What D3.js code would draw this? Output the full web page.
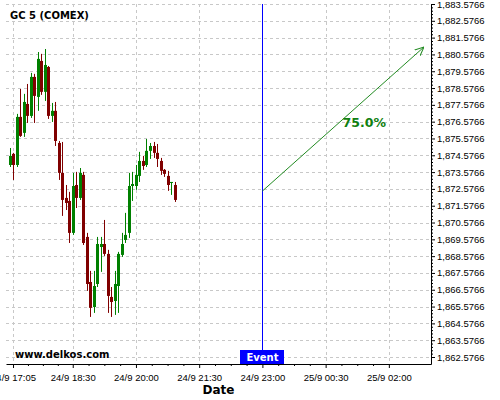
<!DOCTYPE html>
<html>
<head>
<meta charset="utf-8">
<script src="https://cdn.jsdelivr.net/npm/d3@7"></script>
<style>
  body { margin: 0; background: #fff; }
  svg { display: block; font-family: "DejaVu Sans", sans-serif; }
</style>
</head>
<body>
<div id="chart"></div>
<script>
/** chart data: 5 minute candles of GC 5 starting 24/9 17:00 */
const startTime = "2024-09-24 17:00";
const opens  = [1874.00,1874.66,1874.00,1876.86,1875.91,1877.63,1876.92,1879.24,1878.05,1880.19,
                1878.35,1879.83,1876.92,1877.22,1875.31,1873.53,1872.04,1871.86,1869.96,1872.81,
                1872.04,1873.41,1869.72,1867.04,1865.55,1866.92,1869.12,1869.30,1868.71,1866.15,
                1865.91,1866.80,1868.65,1869.54,1869.96,1872.75,1872.75,1873.35,1874.24,1874.00,
                1874.84,1875.13,1874.72,1874.24,1873.71,1873.35,1872.93,1872.81];
const highs  = [1875.01,1874.72,1877.04,1878.52,1878.23,1878.82,1879.48,1879.42,1880.72,1880.61,
                1880.90,1879.89,1877.69,1877.75,1875.43,1875.37,1872.81,1872.40,1873.53,1873.59,
                1873.82,1873.59,1869.96,1867.70,1867.70,1869.72,1869.72,1870.73,1868.95,1866.74,
                1867.70,1868.83,1869.96,1871.15,1873.53,1873.59,1874.00,1874.78,1874.54,1875.55,
                1875.31,1875.37,1875.25,1874.42,1873.76,1873.65,1872.99,1872.99];
const lows   = [1873.88,1873.11,1873.88,1875.67,1875.67,1876.50,1876.80,1876.50,1877.22,1878.17,
                1877.81,1876.74,1876.56,1875.13,1873.11,1870.97,1871.32,1869.36,1869.84,1871.44,
                1871.92,1869.24,1866.51,1864.96,1865.20,1866.74,1867.64,1868.59,1865.20,1864.96,
                1865.08,1865.20,1868.53,1869.36,1869.66,1871.86,1872.52,1872.99,1873.71,1873.88,
                1874.36,1874.42,1873.88,1873.41,1873.29,1872.46,1872.22,1871.80];
const closes = [1874.54,1874.00,1876.86,1875.73,1877.75,1876.92,1879.24,1878.11,1880.31,1878.35,
                1879.95,1876.92,1877.22,1875.43,1873.53,1871.92,1871.74,1869.96,1872.75,1872.04,
                1873.53,1869.36,1866.92,1865.50,1866.80,1869.30,1869.30,1868.71,1866.21,1865.85,
                1866.92,1868.71,1869.30,1869.84,1872.75,1872.87,1873.41,1874.24,1873.94,1874.84,
                1875.13,1874.72,1874.36,1873.65,1873.47,1872.81,1872.99,1871.92];

/** axis ticks */
const yTicks = d3.range(1862.5766, 1883.6, 1);
const xTickLabels = ["2024-09-24 17:05", "2024-09-24 18:30", "2024-09-24 20:00", "2024-09-24 21:30",
                     "2024-09-24 23:00", "2024-09-25 00:30", "2024-09-25 02:00"];

/** event and forecast arrow */
const eventTime = "2024-09-24 23:00";
const arrowStart = { time: "2024-09-24 23:00", value: 1872.45 };
const arrowEnd   = { time: "2024-09-25 02:50", value: 1881.02 };
const arrowLabel = "75.0%";
const labelPos   = { time: "2024-09-25 01:25", value: 1876.25 };

let parseTime = d3.timeParse("%Y-%m-%d %H:%M");

let width = 500, height = 400;
let plot = { left: 6, right: 431, top: 4, bottom: 364 };

let svg = d3.select('#chart').append('svg')
    .attr('width', width)
    .attr('height', height);

let t0 = parseTime(startTime);
let candles = opens.map(function (o, i) {
    return { time: d3.timeMinute.offset(t0, 5 * i), open: o, high: highs[i], low: lows[i], close: closes[i] };
});

let xScale = d3.scaleTime()
    .domain([parseTime("2024-09-24 16:55"), parseTime("2024-09-25 03:00")])
    .range([plot.left, plot.right]);

let yScale = d3.scaleLinear()
    .domain([1862.5766 - 7 / 16.81, 1883.5766])
    .range([plot.bottom, plot.top]);

let xTicks = xTickLabels.map(parseTime);

/** grid */
let grid = svg.append('g').attr('class', 'grid')
    .attr('stroke', '#c8c8c8')
    .attr('stroke-dasharray', '3,3')
    .attr('stroke-width', 1);

grid.selectAll('.hgrid')
    .data(yTicks)
    .enter()
    .append('line')
    .attr('x1', plot.left)
    .attr('x2', plot.right)
    .attr('y1', d => Math.round(yScale(d)) + 0.5)
    .attr('y2', d => Math.round(yScale(d)) + 0.5);

grid.selectAll('.vgrid')
    .data(xTicks)
    .enter()
    .append('line')
    .attr('y1', plot.top)
    .attr('y2', plot.bottom)
    .attr('x1', d => Math.round(xScale(d)) + 0.5)
    .attr('x2', d => Math.round(xScale(d)) + 0.5);

/** candles */
let bodyW = 3;
let candleG = svg.selectAll('.candle')
    .data(candles)
    .enter()
    .append('g')
    .attr('class', 'candle')
    .attr('fill', d => d.close >= d.open ? '#008000' : '#800000')
    .attr('stroke', d => d.close >= d.open ? '#008000' : '#800000');

candleG.append('line')
    .attr('x1', d => Math.round(xScale(d.time)) + 0.5)
    .attr('x2', d => Math.round(xScale(d.time)) + 0.5)
    .attr('y1', d => yScale(d.high))
    .attr('y2', d => yScale(d.low))
    .attr('stroke-width', 1);

candleG.append('rect')
    .attr('stroke', 'none')
    .attr('x', d => Math.round(xScale(d.time)) - 1)
    .attr('width', bodyW)
    .attr('y', d => yScale(Math.max(d.open, d.close)))
    .attr('height', d => Math.max(1, Math.abs(yScale(d.open) - yScale(d.close))));

/** event line */
let ex = Math.round(xScale(parseTime(eventTime))) + 0.5;
svg.append('line')
    .attr('x1', ex).attr('x2', ex)
    .attr('y1', plot.top).attr('y2', plot.bottom)
    .attr('stroke', '#0000ff')
    .attr('stroke-width', 1);

/** forecast arrow */
svg.append('defs').append('marker')
    .attr('id', 'head')
    .attr('viewBox', '0 0 10 10')
    .attr('refX', 10).attr('refY', 5)
    .attr('markerWidth', 9).attr('markerHeight', 9)
    .attr('markerUnits', 'userSpaceOnUse')
    .attr('orient', 'auto')
    .append('path')
    .attr('d', 'M0,0.5 L10,5 L0,9.5')
    .attr('fill', 'none')
    .attr('stroke', '#228b22')
    .attr('stroke-width', 1.1);

let ax1 = xScale(parseTime(arrowStart.time)), ay1 = yScale(arrowStart.value);
let ax2 = xScale(parseTime(arrowEnd.time)), ay2 = yScale(arrowEnd.value);
svg.append('line')
    .attr('x1', ax1).attr('y1', ay1)
    .attr('x2', ax2).attr('y2', ay2)
    .attr('stroke', '#228b22')
    .attr('stroke-width', 1)
    .attr('marker-end', 'url(#head)');

svg.append('text')
    .attr('x', xScale(parseTime(labelPos.time)))
    .attr('y', yScale(labelPos.value))
    .attr('text-anchor', 'middle')
    .style('font-size', '12.5px')
    .style('font-weight', 'bold')
    .attr('fill', '#108010')
    .text(arrowLabel);

/** axes */
let xAxis = d3.axisBottom(xScale)
    .tickValues(xTicks)
    .tickFormat(d3.timeFormat("%-d/%-m %H:%M"))
    .tickSize(4)
    .tickSizeOuter(0);

let xMinor = [];
for (let i = 0; i < xTicks.length - 1; i++) {
    let a = +xTicks[i], b = +xTicks[i + 1];
    for (let k = 1; k < 4; k++) xMinor.push(new Date(a + (b - a) * k / 4));
}

svg.append('g')
    .attr('transform', `translate(0, ${plot.bottom})`)
    .call(d3.axisBottom(xScale).tickValues(xMinor).tickFormat('').tickSize(2).tickSizeOuter(0))
    .call(g => g.select('.domain').remove());

let gx = svg.append('g')
    .attr('transform', `translate(0, ${plot.bottom})`)
    .call(xAxis);
gx.selectAll('text').style('font-size', '9.5px').attr('dy', '1.05em');

let yMinor = d3.range(1862.5766, 1883.6, 0.2).filter((d, i) => i % 5 !== 0);
svg.append('g')
    .attr('transform', `translate(${plot.right}, 0)`)
    .call(d3.axisRight(yScale).tickValues(yMinor).tickFormat('').tickSize(2).tickSizeOuter(0))
    .call(g => g.select('.domain').remove());

let gy = svg.append('g')
    .attr('transform', `translate(${plot.right}, 0)`)
    .call(d3.axisRight(yScale)
        .tickValues(yTicks)
        .tickFormat(d3.format(",.4f"))
        .tickSize(4)
        .tickSizeOuter(0)
        .tickPadding(2));
gy.selectAll('text').style('font-size', '9.5px');

/** event label box */
svg.append('rect')
    .attr('x', ex - 22.5)
    .attr('y', plot.bottom - 14)
    .attr('width', 44)
    .attr('height', 14)
    .attr('fill', '#0000ff');
svg.append('text')
    .attr('x', ex)
    .attr('y', plot.bottom - 3.5)
    .attr('text-anchor', 'middle')
    .attr('fill', '#fff')
    .style('font-size', '10px')
    .style('font-weight', 'bold')
    .text('Event');

/** titles */
svg.append('text')
    .attr('x', 10)
    .attr('y', 19)
    .style('font-size', '10px')
    .style('font-weight', 'bold')
    .text('GC 5 (COMEX)');

svg.append('text')
    .attr('x', 15)
    .attr('y', 357.5)
    .style('font-size', '10px')
    .style('font-weight', 'bold')
    .text('www.delkos.com');

svg.append('text')
    .attr('x', (plot.left + plot.right) / 2)
    .attr('y', 394)
    .attr('text-anchor', 'middle')
    .style('font-size', '12px')
    .style('font-weight', 'bold')
    .text('Date');
</script>
</body>
</html>
